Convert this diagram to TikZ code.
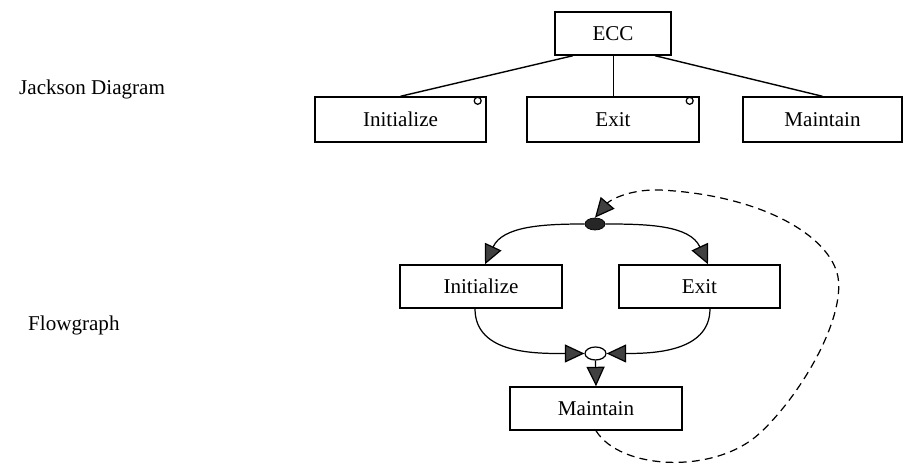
\documentclass[tikz,border=0pt]{standalone}
\usepackage{fontspec}
\setmainfont{Liberation Serif}
\usepackage{tikz}
\usetikzlibrary{arrows.meta}
\usetikzlibrary{shapes.geometric}

\tikzset{
  box/.style={draw=black,line width=0.8pt,inner sep=0pt,minimum height=0.9cm},
  flowarrow/.style={line width=0.7pt,-{Triangle[length=3.9mm,width=3.6mm,fill=black!75]}},
  loopback/.style={line width=0.7pt,dash pattern=on 4.5pt off 3pt,-{Triangle[length=3.9mm,width=3.6mm,fill=black!75]}},
  selmark/.style={line width=0.7pt},
}

\begin{document}
\begin{tikzpicture}[x=0.02cm,y=-0.02cm,font=\fontsize{12}{14}\selectfont]
        \useasboundingbox (0,0) rectangle (904,465);
        % labels on the left
        \node[anchor=base west] (jlabel) at (13,95) {Jackson Diagram};
        \node[anchor=base west] (flabel) at (22,331) {Flowgraph};
        % Jackson diagram
        \node[box,minimum width=2.32cm,minimum height=0.86cm] (ecc) at (613,33.5) {ECC};
        \node[box,minimum width=3.42cm] (jinit) at (400.5,119.5) {Initialize};
        \node[box,minimum width=3.44cm] (jexit) at (613,119.5) {Exit};
        \node[box,minimum width=3.18cm] (jmaint) at (822.5,119.5) {Maintain};
        \draw[line width=0.8pt] ([xshift=-0.8cm]ecc.south) -- (jinit.north);
        \draw[line width=0.5pt] (ecc.south) -- (jexit.north);
        \draw[line width=0.8pt] ([xshift=0.84cm]ecc.south) -- (jmaint.north);
        \draw[selmark] ([xshift=-0.18cm,yshift=-0.09cm]jinit.north east) circle (0.07cm);
        \draw[selmark] ([xshift=-0.2cm,yshift=-0.09cm]jexit.north east) circle (0.07cm);
        % flowgraph
        \node[ellipse,draw=black,fill=black!85,inner sep=0pt,minimum width=0.4cm,minimum height=0.24cm] (fork) at (595,224) {};
        \node[box,minimum width=3.24cm,minimum height=0.86cm] (finit) at (481,286.5) {Initialize};
        \node[box,minimum width=3.22cm,minimum height=0.86cm] (fexit) at (699.5,286.5) {Exit};
        \node[ellipse,draw=black,line width=0.7pt,inner sep=0pt,minimum width=0.42cm,minimum height=0.26cm] (join) at (595.5,353.5) {};
        \node[box,minimum width=3.44cm,minimum height=0.86cm] (fmaint) at (596,408.5) {Maintain};
        \draw[flowarrow] (fork.west) to[out=180,in=65] ([xshift=0.08cm]finit.north);
        \draw[flowarrow] (fork.east) to[out=0,in=115] ([xshift=0.17cm]fexit.north);
        \draw[flowarrow] ([xshift=-0.12cm]finit.south) to[out=-90,in=180] (join.west);
        \draw[flowarrow] ([xshift=0.21cm]fexit.south) to[out=-90,in=0] (join.east);
        \draw[flowarrow] (join.south) -- (fmaint.north);
        \draw[loopback] (fmaint.south) .. controls (620,470) and (715,475) .. (760,433)
            .. controls (800,396) and (845,320) .. (838,277)
            .. controls (830,235) and (760,195) .. (660,190)
            .. controls (630,189) and (610,200) .. (fork.north);
\end{tikzpicture}
\end{document}
